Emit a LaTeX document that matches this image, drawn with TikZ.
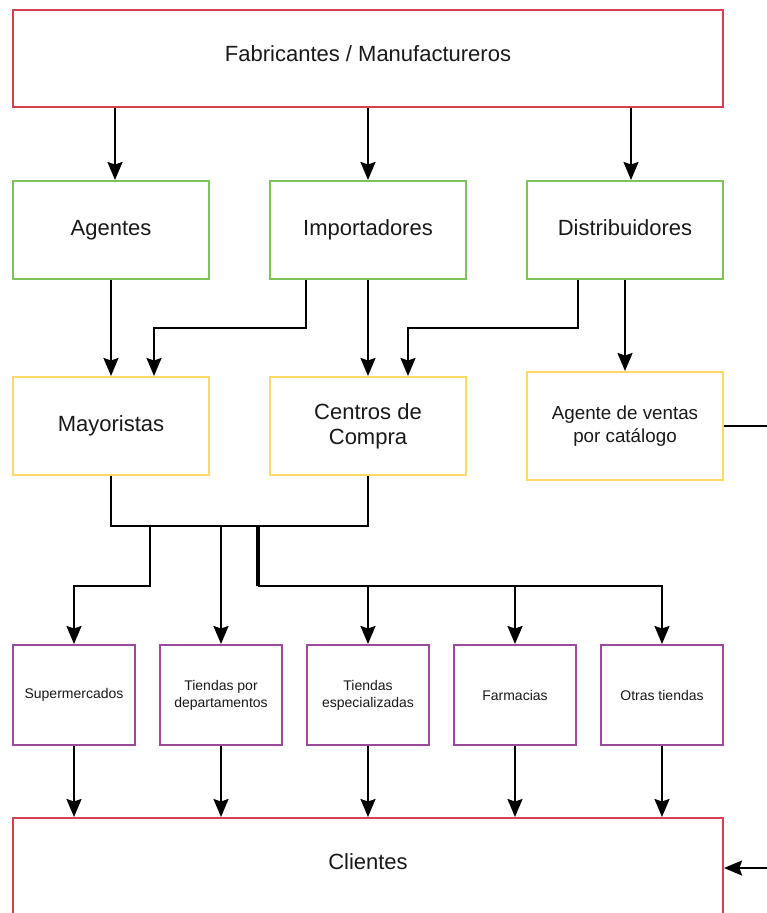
\documentclass[tikz,border=0pt]{standalone}
\usepackage{fontspec}
\setmainfont{Liberation Sans}
\usetikzlibrary{arrows.meta,calc}
\definecolor{cred}{HTML}{D6404F}
\definecolor{cgreen}{HTML}{7DC35A}
\definecolor{cyellow}{HTML}{FFD966}
\definecolor{cpurple}{HTML}{9B4A9E}
\tikzset{
  box/.style={draw, line width=2pt, rectangle, inner sep=2pt, align=center, text=black!90},
  onel/.style={text height=16pt, text depth=5pt},
  redbox/.style={box, draw=cred, minimum width=710pt, font=\fontsize{22}{26}\selectfont},
  greenbox/.style={box, onel, draw=cgreen, minimum width=196pt, minimum height=98pt, font=\fontsize{22}{26}\selectfont},
  yellowbox/.style={box, draw=cyellow, minimum width=196pt, minimum height=98pt, font=\fontsize{22}{25}\selectfont},
  purplebox/.style={box, draw=cpurple, minimum width=122pt, minimum height=100pt, font=\fontsize{14}{17}\selectfont},
  conn/.style={line width=2pt, black},
  arr/.style={conn, -{Stealth[length=18pt,width=15pt,inset=2.5pt]}},
}
\begin{document}
\begin{tikzpicture}[x=1pt,y=-1pt]
\useasboundingbox (0,0) rectangle (767,913);
\clip (0,0) rectangle (767,913);
% boxes
\node[redbox, minimum height=97pt, text height=16pt, text depth=10pt] (fab) at (368,58.5) {Fabricantes / Manufactureros};
\node[greenbox] (ag)  at (111,230) {Agentes};
\node[greenbox] (imp) at (368,230) {Importadores};
\node[greenbox] (dis) at (625,230) {Distribuidores};
\node[yellowbox, onel] (may) at (111,426) {Mayoristas};
\node[yellowbox] (cen) at (368,426) {Centros de\\Compra};
\node[yellowbox, minimum height=108pt, font=\fontsize{18.8}{22.5}\selectfont] (cat) at (625,426) {Agente de ventas\\por catálogo};
\node[purplebox] (sup) at (74,695) {Supermercados};
\node[purplebox] (dep) at (221,695) {Tiendas por\\departamentos};
\node[purplebox] (esp) at (368,695) {Tiendas\\especializadas};
\node[purplebox] (far) at (515,695) {Farmacias};
\node[purplebox] (otr) at (662,695) {Otras tiendas};
\node[redbox, minimum height=182pt] (cli) at (368,909) {};
\node[font=\fontsize{22}{26}\selectfont, text=black!90] (clitxt) at (368,862) {Clientes};
% helper coordinates
\coordinate (agin) at ($(ag.north)+(4,0)$);
\coordinate (disin) at ($(dis.north)+(6,0)$);
\coordinate (impl) at ($(imp.south)+(-62,0)$);
\coordinate (mayr) at ($(may.north)+(43,0)$);
\coordinate (disl) at ($(dis.south)+(-47,0)$);
\coordinate (cenr) at ($(cen.north)+(40,0)$);
% top arrows
\draw[arr] (agin |- fab.south) -- (agin);
\draw[arr] (imp.north |- fab.south) -- (imp.north);
\draw[arr] (disin |- fab.south) -- (disin);
% second level
\draw[arr] (ag.south) -- (may.north);
\draw[arr] (impl) -- ++(0,48) -| (mayr);
\draw[arr] (imp.south) -- (cen.north);
\draw[arr] (disl) -- ++(0,48) -| (cenr);
\draw[arr] (dis.south) -- (cat.north);
% merge
\coordinate (j) at ($(may.south)+(0,50)$);
\draw[conn] (may.south) -- (j) -- (j -| cen.south) -- (cen.south);
\coordinate (jb) at ($(j)+(39,0)$);
\draw[arr] (jb) -- ++(0,60) -| (sup.north);
\draw[arr] (j -| dep.north) -- (dep.north);
\coordinate (jc) at ($(j)+(147,0)$);
\coordinate (jd) at ($(jc)+(0,60)$);
\draw[line width=4pt] (jc) -- (jd);
\draw[arr] (jd) -| (otr.north);
\draw[arr] (jd -| esp.north) -- (esp.north);
\draw[arr] (jd -| far.north) -- (far.north);
% to clients
\foreach \n in {sup,dep,esp,far,otr}{
  \draw[arr] (\n.south) -- (\n.south |- cli.north);
}
% catalog to clients
\coordinate (clin) at ($(cli.east)+(0,-41)$);
\draw[arr] (cat.east) -- ++(70,0) |- (clin);
\end{tikzpicture}
\end{document}
